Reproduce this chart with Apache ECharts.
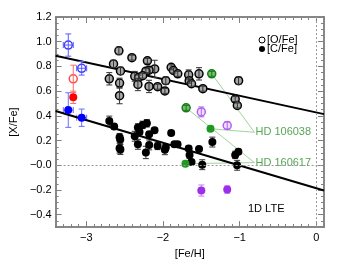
<!DOCTYPE html>
<html><head><meta charset="utf-8">
<script src="https://cdn.jsdelivr.net/npm/echarts@6/dist/echarts.min.js"></script>
<style>html,body{margin:0;padding:0;background:#fff}#c{width:341px;height:264px}</style>
</head><body><div id="c"></div>
<script>
// ---- tick labels ----
const xTickLabels = [-3, -2, -1, 0];
const yTickLabels = [-0.4, -0.2, 0.0, 0.2, 0.4, 0.6, 0.8, 1.0, 1.2];

// ---- data: [ [Fe/H], [X/Fe], yerr ] ----
const oFeBlack = [
  [-2.70,0.700,0.05],[-2.645,0.820,0.03],[-2.575,0.926,0.03],[-2.554,0.764,0.03],
  [-2.566,0.665,0.04],[-2.566,0.563,0.065],[-2.405,0.871,0.02],[-2.203,0.845,0.02],
  [-2.108,0.780,0.07],[-2.182,0.770,0.02],[-2.223,0.762,0.02],[-2.368,0.720,0.04],
  [-2.318,0.710,0.02],[-2.265,0.725,0.02],[-2.327,0.654,0.05],[-2.182,0.638,0.05],
  [-2.070,0.636,0.02],[-1.963,0.685,0.03],[-1.975,0.602,0.02],[-1.893,0.793,0.02],
  [-1.864,0.767,0.02],[-1.807,0.740,0.02],[-1.665,0.732,0.04],[-1.658,0.685,0.02],
  [-1.628,0.660,0.02],[-1.530,0.740,0.05],[-1.480,0.620,0.02],[-1.014,0.685,0.03],
  [-1.058,0.536,0.02],[-1.030,0.484,0.02]
];
const cFeBlack = [
  [-2.70,0.358,0.04],[-2.637,0.314,0.02],[-2.566,0.228,0.03],[-2.557,0.209,0.03],
  [-2.566,0.139,0.04],[-2.555,0.128,0.04],[-2.368,0.235,0.04],[-2.327,0.306,0.03],
  [-2.306,0.270,0.02],[-2.265,0.327,0.03],[-2.210,0.340,0.03],[-2.180,0.252,0.02],
  [-2.110,0.283,0.02],[-2.327,0.170,0.04],[-2.180,0.165,0.04],[-2.223,0.104,0.05],
  [-2.070,0.157,0.03],[-1.963,0.144,0.02],[-1.975,0.126,0.04],[-1.893,0.262,0.02],
  [-1.851,0.170,0.02],[-1.810,0.170,0.02],[-1.665,0.136,0.02],[-1.653,0.084,0.03],
  [-1.628,0.026,0.02],[-1.530,0.131,0.02],[-1.488,0.005,0.04],[-1.356,0.188,0.04],
  [-1.058,0.084,0.03],[-1.017,0.110,0.02],[-1.033,0.000,0.04]
];
// [ [Fe/H], [X/Fe], yerr, xerr ]
const oFeBlue = [[-3.235,0.973,0.09,0.065],[-3.060,0.785,0.055,0.065]];
const cFeBlue = [[-3.235,0.447,0.14,0.065],[-3.060,0.385,0.07,0.065]];
const oFeRed = [[-3.170,0.700,0.11]];
const cFeRed = [[-3.170,0.550,0.05]];
const oFeGreen = [[-1.364,0.740,0.02],[-1.698,0.465,0.02]];
const cFeGreen = [[-1.380,0.296,0.02],[-1.707,0.013,0.02]];
const oFePurple = [[-1.500,0.432,0.04],[-1.162,0.322,0.03]];
const cFePurple = [[-1.500,-0.204,0.045],[-1.162,-0.196,0.03]];

// ---- linear fits (end points) ----
const oFit = [[-3.4,0.887],[0.1,0.414]];
const cFit = [[-3.4,0.440],[0.1,-0.204]];

// ---- annotations ----
const annoNames = ['HD 106038', 'HD 160617'];
const annoAnchors = [[-0.807,0.267],[-0.807,0.022]];
const annoTargets = [[oFeGreen[0], cFeGreen[0]], [oFeGreen[1], cFeGreen[1]]];

const FONT = 'Liberation Sans, Arial, Helvetica, sans-serif';
const AX = '#808080';
const minus = v => String(v).replace('-', '\u2212');

const xMinor = [], yMinor = [];
for (let i = -34; i <= 1; i++) xMinor.push(+(i / 10).toFixed(2));
for (let i = -10; i <= 24; i++) yMinor.push(+(i / 20).toFixed(2));

function xAx(pos, vals, len, labels) {
  return {
    type: 'value', min: -3.4, max: 0.1, position: pos, gridIndex: 0,
    axisLine: { show: true, onZero: false, lineStyle: { color: AX, width: 1.5 } },
    axisTick: { show: true, inside: true, length: len, customValues: vals, lineStyle: { color: AX, width: 1 } },
    axisLabel: labels ? { show: true, customValues: vals, margin: 5, color: '#000', fontSize: 11, fontFamily: FONT,
      formatter: v => minus(Math.round(v)) } : { show: false },
    splitLine: { show: false },
    name: labels ? '[Fe/H]' : '', nameLocation: 'middle', nameGap: 17,
    nameTextStyle: { color: '#000', fontSize: 11, fontFamily: FONT }
  };
}
function yAx(pos, vals, len, labels) {
  return {
    type: 'value', min: -0.5, max: 1.2, position: pos, gridIndex: 0,
    axisLine: { show: true, onZero: false, lineStyle: { color: AX, width: 1.5 } },
    axisTick: { show: true, inside: true, length: len, customValues: vals, lineStyle: { color: AX, width: 1 } },
    axisLabel: labels ? { show: true, customValues: vals, margin: 4, color: '#000', fontSize: 11, fontFamily: FONT,
      formatter: v => (Math.abs(v) < 1e-9 ? '\u22120.0' : minus(v.toFixed(1))) } : { show: false },
    splitLine: { show: false },
    name: labels ? '[X/Fe]' : '', nameLocation: 'middle', nameGap: 27,
    nameTextStyle: { color: '#000', fontSize: 11, fontFamily: FONT }
  };
}

function errRender(color) {
  return function (params, api) {
    const x = api.value(0), y = api.value(1), ey = api.value(2), ex = api.value(3) || 0;
    const c = api.coord([x, y]);
    const t = api.coord([x, y + ey]), b = api.coord([x, y - ey]);
    const st = { stroke: color, lineWidth: 1 };
    const cap = 3;
    const ch = [
      { type: 'line', shape: { x1: c[0], y1: t[1], x2: c[0], y2: b[1] }, style: st },
      { type: 'line', shape: { x1: c[0] - cap, y1: t[1], x2: c[0] + cap, y2: t[1] }, style: st },
      { type: 'line', shape: { x1: c[0] - cap, y1: b[1], x2: c[0] + cap, y2: b[1] }, style: st }
    ];
    if (ex > 0) {
      const l = api.coord([x - ex, y]), r = api.coord([x + ex, y]);
      ch.push({ type: 'line', shape: { x1: l[0], y1: c[1], x2: r[0], y2: c[1] }, style: st });
      ch.push({ type: 'line', shape: { x1: l[0], y1: c[1] - cap, x2: l[0], y2: c[1] + cap }, style: st });
      ch.push({ type: 'line', shape: { x1: r[0], y1: c[1] - cap, x2: r[0], y2: c[1] + cap }, style: st });
    }
    return { type: 'group', children: ch };
  };
}
function errSeries(data, color, z) {
  return { type: 'custom', xAxisIndex: 0, yAxisIndex: 0, data: data, renderItem: errRender(color),
    encode: { x: 0, y: 1 }, z: z, silent: true, clip: false };
}
function openSeries(data, stroke, fill, size) {
  return { type: 'scatter', xAxisIndex: 0, yAxisIndex: 0, data: data, symbol: 'circle', symbolSize: size || 8,
    itemStyle: { color: fill, borderColor: stroke, borderWidth: 1.5, opacity: 1 }, z: 4, silent: true };
}
function fillSeries(data, color, size) {
  return { type: 'scatter', xAxisIndex: 0, yAxisIndex: 0, data: data, symbol: 'circle', symbolSize: size || 8,
    itemStyle: { color: color, opacity: 1 }, z: 4, silent: true };
}

const series = [];
series.push({ type: 'line', xAxisIndex: 0, yAxisIndex: 0, data: [], silent: true,
  markLine: { symbol: 'none', silent: true, label: { show: false },
    lineStyle: { color: '#999', type: [2, 2], width: 1 },
    data: [{ yAxis: 0 }, { xAxis: 0 }] } });
[oFit, cFit].forEach(f => series.push({ type: 'line', xAxisIndex: 0, yAxisIndex: 0, data: f, symbol: 'none',
  lineStyle: { color: '#000', width: 2 }, z: 3, silent: true }));
annoTargets.forEach((tg, i) => tg.forEach(p => series.push({ type: 'line', xAxisIndex: 0, yAxisIndex: 0,
  data: [annoAnchors[i], [p[0], p[1]]], symbol: 'none', lineStyle: { color: '#9fd49f', width: 1 }, z: 2, silent: true })));
series.push({ type: 'scatter', xAxisIndex: 0, yAxisIndex: 0, symbolSize: 0, silent: true,
  data: annoAnchors.map((a, i) => ({ value: a, name: annoNames[i] })),
  label: { show: true, position: 'right', distance: 1, formatter: p => p.name, color: '#2a8f2a', fontSize: 11, fontFamily: FONT } });

series.push(errSeries(cFeBlack, '#333', 3));
series.push(errSeries(cFeBlue, '#6b6bff', 3));
series.push(errSeries(cFeRed, '#ff7070', 3));
series.push(errSeries(cFeGreen, '#3a3', 3));
series.push(errSeries(cFePurple, '#c77dff', 3));
series.push(fillSeries(cFeBlack, '#000', 8));
series.push(fillSeries(cFeBlue, '#0000ff', 8));
series.push(fillSeries(cFeRed, '#ff0000', 8));
series.push(fillSeries(cFeGreen, '#1f9a1f', 8));
series.push(fillSeries(cFePurple, '#9b30e8', 8));
series.push(openSeries(oFeBlack, '#000', '#a8a8a8', 8));
series.push(openSeries(oFeBlue, '#3a3aff', '#ffffff', 8));
series.push(openSeries(oFeRed, '#ff4a4a', '#ffffff', 8));
series.push(openSeries(oFeGreen, '#1a7a1a', '#6fbf6f', 8));
series.push(openSeries(oFePurple, '#b060f0', '#f0e0ff', 8));
series.push(errSeries(oFeBlack, '#333', 5));
series.push(errSeries(oFeBlue, '#5a5aff', 5));
series.push(errSeries(oFeRed, '#ff6a6a', 5));
series.push(errSeries(oFeGreen, '#1a7a1a', 5));
series.push(errSeries(oFePurple, '#b060f0', 5));

const chart = echarts.init(document.getElementById('c'), null, { renderer: 'canvas' });
chart.setOption({
  animation: false,
  backgroundColor: '#fff',
  grid: { left: 42, top: 17, right: 17, bottom: 31, containLabel: false },
  xAxis: [
    xAx('bottom', xTickLabels, 6, true), xAx('bottom', xMinor, 3, false),
    xAx('top', xTickLabels, 6, false), xAx('top', xMinor, 3, false)
  ],
  yAxis: [
    yAx('left', yTickLabels, 6, true), yAx('left', yMinor, 3, false),
    yAx('right', yTickLabels, 6, false), yAx('right', yMinor, 3, false)
  ],
  graphic: [
    { type: 'circle', shape: { cx: 262, cy: 40, r: 3 }, style: { fill: '#fff', stroke: '#000', lineWidth: 1 } },
    { type: 'text', left: 267, top: 34, style: { text: '[O/Fe]', fill: '#000', font: '11px ' + FONT } },
    { type: 'circle', shape: { cx: 262, cy: 49, r: 3 }, style: { fill: '#000' } },
    { type: 'text', left: 267, top: 43, style: { text: '[C/Fe]', fill: '#000', font: '11px ' + FONT } },
    { type: 'text', left: 248, top: 203, style: { text: '1D LTE', fill: '#000', font: '11px ' + FONT } }
  ],
  series: series
});
</script></body></html>
